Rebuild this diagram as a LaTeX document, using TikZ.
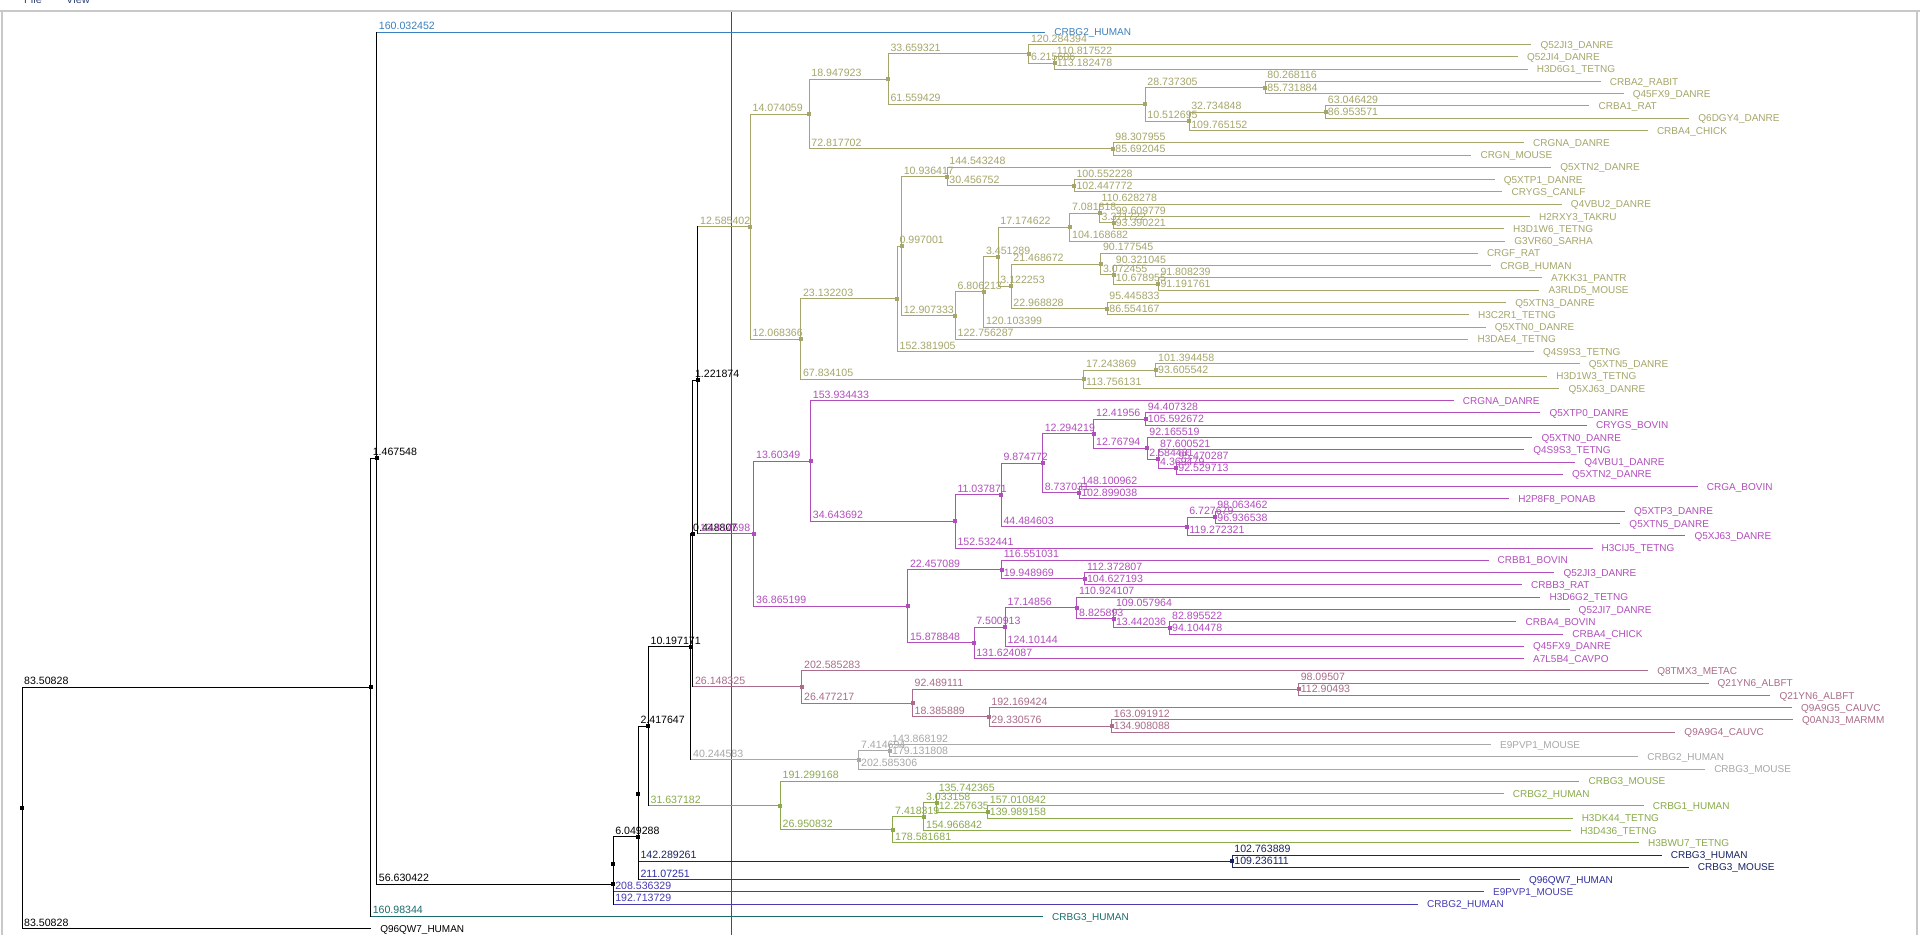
\documentclass[tikz,border=0pt]{standalone}
\usepackage{fontspec}
\setmainfont{Liberation Sans}
\usetikzlibrary{calc}
\definecolor{cOl}{RGB}{166,166,108}
\definecolor{cPur}{RGB}{178,78,188}
\definecolor{cMauve}{RGB}{170,108,138}
\definecolor{cGray}{RGB}{168,168,168}
\definecolor{cGreen}{RGB}{138,170,76}
\definecolor{cNavy}{RGB}{24,36,100}
\definecolor{cBv}{RGB}{70,60,180}
\definecolor{cBv2}{RGB}{45,45,160}
\definecolor{cBlue}{RGB}{58,128,190}
\definecolor{cTeal}{RGB}{28,108,108}
\definecolor{cBorder}{RGB}{200,200,200}
\definecolor{cMenu}{RGB}{50,70,120}
\def\sc{4.174}
\tikzset{
 br/.style={line width=1pt, line cap=rect},
 lbl/.style={inner sep=0pt, font=\fontsize{10.6}{12}\selectfont, anchor=base west},
 leaflbl/.style={inner sep=0pt, font=\fontsize{10}{12}\selectfont, anchor=base west},
 mk/.style={rectangle, inner sep=0pt, minimum size=4pt, draw=none},
}
% internal node: color, name, parent, length, y(px)
\newcommand\nd[5]{%
 \path let \p1=(#3) in ({\x1+#4*\sc pt},{-#5pt}) coordinate (#2);
 \draw[br,#1] (#3 |- #2) -- (#2);
 \node[lbl,text=#1,xshift=2pt,yshift=2.5pt] (#2b) at (#3 |- #2) {#4};}
% leaf: color, name, parent, length, index, text
\newcommand\lf[6]{%
 \path let \p1=(#3) in ({\x1+#4*\sc pt},{-(32.3+12.28*#5)*1pt}) coordinate (#2);
 \draw[br,#1] (#3 |- #2) -- (#2);
 \node[lbl,text=#1,xshift=2pt,yshift=2.5pt] (#2b) at (#3 |- #2) {#4};
 \node[leaflbl,text=#1,xshift=9.5pt,yshift=-3.6pt] (#2t) at (#2) {#6};}
% zero-length node: name, parent, y
\newcommand\zn[3]{\path let \p1=(#2) in (\x1,{-#3pt}) coordinate (#1);}
% vertical + marker: color, node, top child, bottom child
\newcommand\vl[4]{%
 \draw[br,#1] (#2 |- #3) -- (#2 |- #4);
 \node[mk,fill=#1] (#2m) at (#2) {};}
\begin{document}
\begin{tikzpicture}[x=1pt,y=1pt]
\useasboundingbox (0,0) rectangle (1920,-935);
\fill[white] (0,0) rectangle (1920,-935);
\begin{scope}
\clip (0,0) rectangle (1920,-935);
\node[leaflbl,text=cMenu,font=\fontsize{11}{12}\selectfont] (menuF) at (24,-3.5) {File};
\node[leaflbl,text=cMenu,font=\fontsize{11}{12}\selectfont] (menuV) at (66,-3.5) {View};
\end{scope}
\fill[cBorder] (0,-9.5) rectangle (1920,-12);
\fill[cBorder] (0.5,-12) rectangle (2.5,-935);
\fill[cBorder] (1915.5,-12) rectangle (1918,-935);
\draw[red,line width=1pt] (731,-12) -- (731,-935);
% ---------- backbone
\coordinate (R) at (22,-808.05);
\nd{black}{A}{R}{83.50828}{687.37}
\lf{black}{l73}{R}{83.50828}{73}{Q96QW7\_HUMAN}
\nd{black}{B}{A}{1.467548}{458.27}
\lf{cTeal}{l72}{A}{160.98344}{72}{CRBG3\_HUMAN}
\lf{cBlue}{l0}{B}{160.032452}{0}{CRBG2\_HUMAN}
\nd{black}{C}{B}{56.630422}{884.23}
\zn{Cp}{C}{864.27}
\lf{cBv}{l71}{C}{192.713729}{71}{CRBG2\_HUMAN}
\nd{black}{D}{Cp}{6.049288}{836.64}
\lf{cBv}{l70}{Cp}{208.536329}{70}{E9PVP1\_MOUSE}
\zn{Dp}{D}{793.67}
\lf{cBv2}{l69}{D}{211.07251}{69}{Q96QW7\_HUMAN}
\nd{black}{E}{Dp}{2.417647}{726.13}
\nd{cNavy}{N1}{Dp}{142.289261}{861.2}
\lf{cNavy}{l67}{N1}{102.763889}{67}{CRBG3\_HUMAN}
\lf{cNavy}{l68}{N1}{109.236111}{68}{CRBG3\_MOUSE}
\nd{black}{G}{E}{10.197171}{646.7}
\nd{cGreen}{H1}{E}{31.637182}{805.56}
\nd{black}{K}{G}{0.448807}{533.54}
\nd{cGray}{Gr1}{G}{40.244583}{759.89}
\nd{black}{L}{K}{1.221874}{380.09}
\nd{cMauve}{M1}{K}{26.148325}{686.98}
\nd{cOl}{O1}{L}{12.585402}{226.53}
\nd{cPur}{P1}{L}{13.414598}{533.64}
% ---------- olive clade
\nd{cOl}{O2}{O1}{14.074059}{114.04}
\nd{cOl}{O11}{O1}{12.068366}{339.03}
\nd{cOl}{O3}{O2}{18.947923}{79.12}
\nd{cOl}{O4}{O2}{72.817702}{148.96}
\nd{cOl}{O5}{O3}{33.659321}{53.79}
\nd{cOl}{O6}{O3}{61.559429}{104.445}
\lf{cOl}{l1}{O5}{120.284394}{1}{Q52JI3\_DANRE}
\nd{cOl}{O7}{O5}{6.215606}{63.0}
\lf{cOl}{l2}{O7}{110.817522}{2}{Q52JI4\_DANRE}
\lf{cOl}{l3}{O7}{113.182478}{3}{H3D6G1\_TETNG}
\nd{cOl}{O8}{O6}{28.737305}{87.56}
\nd{cOl}{O9}{O6}{10.512695}{121.33}
\lf{cOl}{l4}{O8}{80.268116}{4}{CRBA2\_RABIT}
\lf{cOl}{l5}{O8}{85.731884}{5}{Q45FX9\_DANRE}
\nd{cOl}{O10}{O9}{32.734848}{112.12}
\lf{cOl}{l8}{O9}{109.765152}{8}{CRBA4\_CHICK}
\lf{cOl}{l6}{O10}{63.046429}{6}{CRBA1\_RAT}
\lf{cOl}{l7}{O10}{86.953571}{7}{Q6DGY4\_DANRE}
\lf{cOl}{l9}{O4}{98.307955}{9}{CRGNA\_DANRE}
\lf{cOl}{l10}{O4}{85.692045}{10}{CRGN\_MOUSE}
\nd{cOl}{O12}{O11}{23.132203}{298.84}
\nd{cOl}{O13}{O11}{67.834105}{379.21}
\nd{cOl}{O15}{O12}{0.997001}{246.1}
\lf{cOl}{l26}{O12}{152.381905}{26}{Q4S9S3\_TETNG}
\nd{cOl}{O16}{O15}{10.936417}{176.59}
\nd{cOl}{O17}{O15}{12.907333}{315.6}
\lf{cOl}{l11}{O16}{144.543248}{11}{Q5XTN2\_DANRE}
\nd{cOl}{O18}{O16}{30.456752}{185.8}
\lf{cOl}{l12}{O18}{100.552228}{12}{Q5XTP1\_DANRE}
\lf{cOl}{l13}{O18}{102.447772}{13}{CRYGS\_CANLF}
\nd{cOl}{O19}{O17}{6.806213}{291.91}
\lf{cOl}{l25}{O17}{122.756287}{25}{H3DAE4\_TETNG}
\nd{cOl}{O20}{O19}{3.451289}{256.79}
\lf{cOl}{l24}{O19}{120.103399}{24}{Q5XTN0\_DANRE}
\nd{cOl}{O21}{O20}{17.174622}{227.245}
\nd{cOl}{O22}{O20}{3.122253}{286.34}
\nd{cOl}{O23}{O21}{7.081818}{213.43}
\lf{cOl}{l17}{O21}{104.168682}{17}{G3VR60\_SARHA}
\lf{cOl}{l14}{O23}{110.628278}{14}{Q4VBU2\_DANRE}
\nd{cOl}{O24}{O23}{3.371722}{222.64}
\lf{cOl}{l15}{O24}{99.609779}{15}{H2RXY3\_TAKRU}
\lf{cOl}{l16}{O24}{93.390221}{16}{H3D1W6\_TETNG}
\nd{cOl}{O25}{O22}{21.468672}{264.085}
\nd{cOl}{O26}{O22}{22.968828}{308.6}
\lf{cOl}{l18}{O25}{90.177545}{18}{CRGF\_RAT}
\nd{cOl}{O27}{O25}{3.072455}{274.83}
\lf{cOl}{l19}{O27}{90.321045}{19}{CRGB\_HUMAN}
\nd{cOl}{O28}{O27}{10.678955}{284.04}
\lf{cOl}{l20}{O28}{91.808239}{20}{A7KK31\_PANTR}
\lf{cOl}{l21}{O28}{91.191761}{21}{A3RLD5\_MOUSE}
\lf{cOl}{l22}{O26}{95.445833}{22}{Q5XTN3\_DANRE}
\lf{cOl}{l23}{O26}{86.554167}{23}{H3C2R1\_TETNG}
\nd{cOl}{O14}{O13}{17.243869}{370.0}
\lf{cOl}{l29}{O13}{113.756131}{29}{Q5XJ63\_DANRE}
\lf{cOl}{l27}{O14}{101.394458}{27}{Q5XTN5\_DANRE}
\lf{cOl}{l28}{O14}{93.605542}{28}{H3D1W3\_TETNG}
% ---------- purple clade
\nd{cPur}{P2}{P1}{13.60349}{461.09}
\nd{cPur}{P3}{P1}{36.865199}{606.2}
\lf{cPur}{l30}{P2}{153.934433}{30}{CRGNA\_DANRE}
\nd{cPur}{P4}{P2}{34.643692}{521.49}
\nd{cPur}{P5}{P4}{11.037871}{494.91}
\lf{cPur}{l42}{P4}{152.532441}{42}{H3CIJ5\_TETNG}
\nd{cPur}{P6}{P5}{9.874772}{463.25}
\nd{cPur}{P7}{P5}{44.484603}{526.57}
\nd{cPur}{P8}{P6}{12.294219}{433.70}
\nd{cPur}{P9}{P6}{8.737031}{492.8}
\nd{cPur}{P10}{P8}{12.41956}{419.12}
\nd{cPur}{P11}{P8}{12.76794}{448.285}
\lf{cPur}{l31}{P10}{94.407328}{31}{Q5XTP0\_DANRE}
\lf{cPur}{l32}{P10}{105.592672}{32}{CRYGS\_BOVIN}
\lf{cPur}{l33}{P11}{92.165519}{33}{Q5XTN0\_DANRE}
\nd{cPur}{P12}{P11}{2.584481}{459.03}
\lf{cPur}{l34}{P12}{87.600521}{34}{Q4S9S3\_TETNG}
\nd{cPur}{P13}{P12}{4.369479}{468.24}
\lf{cPur}{l35}{P13}{95.470287}{35}{Q4VBU1\_DANRE}
\lf{cPur}{l36}{P13}{92.529713}{36}{Q5XTN2\_DANRE}
\lf{cPur}{l37}{P9}{148.100962}{37}{CRGA\_BOVIN}
\lf{cPur}{l38}{P9}{102.899038}{38}{H2P8F8\_PONAB}
\nd{cPur}{P14}{P7}{6.727679}{517.36}
\lf{cPur}{l41}{P7}{119.272321}{41}{Q5XJ63\_DANRE}
\lf{cPur}{l39}{P14}{98.063462}{39}{Q5XTP3\_DANRE}
\lf{cPur}{l40}{P14}{96.936538}{40}{Q5XTN5\_DANRE}
\nd{cPur}{P15}{P3}{22.457089}{569.55}
\nd{cPur}{P16}{P3}{15.878848}{642.85}
\lf{cPur}{l43}{P15}{116.551031}{43}{CRBB1\_BOVIN}
\nd{cPur}{P17}{P15}{19.948969}{578.76}
\lf{cPur}{l44}{P17}{112.372807}{44}{Q52JI3\_DANRE}
\lf{cPur}{l45}{P17}{104.627193}{45}{CRBB3\_RAT}
\nd{cPur}{P18}{P16}{7.500913}{627.11}
\lf{cPur}{l51}{P16}{131.624087}{51}{A7L5B4\_CAVPO}
\nd{cPur}{P19}{P18}{17.14856}{607.93}
\lf{cPur}{l50}{P18}{124.10144}{50}{Q45FX9\_DANRE}
\lf{cPur}{l46}{P19}{110.924107}{46}{H3D6G2\_TETNG}
\nd{cPur}{P20}{P19}{8.825893}{618.67}
\lf{cPur}{l47}{P20}{109.057964}{47}{Q52JI7\_DANRE}
\nd{cPur}{P21}{P20}{13.442036}{627.88}
\lf{cPur}{l48}{P21}{82.895522}{48}{CRBA4\_BOVIN}
\lf{cPur}{l49}{P21}{94.104478}{49}{CRBA4\_CHICK}
% ---------- mauve clade
\lf{cMauve}{l52}{M1}{202.585283}{52}{Q8TMX3\_METAC}
\nd{cMauve}{M2}{M1}{26.477217}{703.1}
\nd{cMauve}{M4}{M2}{92.489111}{689.28}
\nd{cMauve}{M3}{M2}{18.385889}{716.91}
\lf{cMauve}{l53}{M4}{98.09507}{53}{Q21YN6\_ALBFT}
\lf{cMauve}{l54}{M4}{112.90493}{54}{Q21YN6\_ALBFT}
\lf{cMauve}{l55}{M3}{192.169424}{55}{Q9A9G5\_CAUVC}
\nd{cMauve}{M5}{M3}{29.330576}{726.12}
\lf{cMauve}{l56}{M5}{163.091912}{56}{Q0ANJ3\_MARMM}
\lf{cMauve}{l57}{M5}{134.908088}{57}{Q9A9G4\_CAUVC}
% ---------- gray clade
\nd{cGray}{Gr2}{Gr1}{7.414694}{750.68}
\lf{cGray}{l60}{Gr1}{202.585306}{60}{CRBG3\_MOUSE}
\lf{cGray}{l58}{Gr2}{143.868192}{58}{E9PVP1\_MOUSE}
\lf{cGray}{l59}{Gr2}{179.131808}{59}{CRBG2\_HUMAN}
% ---------- green clade
\lf{cGreen}{l61}{H1}{191.299168}{61}{CRBG3\_MOUSE}
\nd{cGreen}{H2}{H1}{26.950832}{829.73}
\nd{cGreen}{H3}{H2}{7.418319}{816.69}
\lf{cGreen}{l66}{H2}{178.581681}{66}{H3BWU7\_TETNG}
\nd{cGreen}{H4}{H3}{3.033158}{802.87}
\lf{cGreen}{l65}{H3}{154.966842}{65}{H3D436\_TETNG}
\lf{cGreen}{l62}{H4}{135.742365}{62}{CRBG2\_HUMAN}
\nd{cGreen}{H5}{H4}{12.257635}{812.08}
\lf{cGreen}{l63}{H5}{157.010842}{63}{CRBG1\_HUMAN}
\lf{cGreen}{l64}{H5}{139.989158}{64}{H3DK44\_TETNG}
% ---------- verticals and node markers
\vl{black}{R}{A}{l73}
\vl{black}{A}{B}{l72}
\vl{black}{B}{l0}{C}
\vl{black}{C}{Cp}{l71}
\vl{black}{Cp}{D}{l70}
\vl{black}{D}{Dp}{l69}
\vl{black}{Dp}{E}{N1}
\vl{black}{E}{G}{H1}
\vl{black}{G}{K}{Gr1}
\vl{black}{K}{L}{M1}
\vl{black}{L}{O1}{P1}
\vl{cNavy}{N1}{l67}{l68}
\vl{cOl}{O1}{O2}{O11}
\vl{cOl}{O2}{O3}{O4}
\vl{cOl}{O3}{O5}{O6}
\vl{cOl}{O5}{l1}{O7}
\vl{cOl}{O7}{l2}{l3}
\vl{cOl}{O6}{O8}{O9}
\vl{cOl}{O8}{l4}{l5}
\vl{cOl}{O9}{O10}{l8}
\vl{cOl}{O10}{l6}{l7}
\vl{cOl}{O4}{l9}{l10}
\vl{cOl}{O11}{O12}{O13}
\vl{cOl}{O12}{O15}{l26}
\vl{cOl}{O15}{O16}{O17}
\vl{cOl}{O16}{l11}{O18}
\vl{cOl}{O18}{l12}{l13}
\vl{cOl}{O17}{O19}{l25}
\vl{cOl}{O19}{O20}{l24}
\vl{cOl}{O20}{O21}{O22}
\vl{cOl}{O21}{O23}{l17}
\vl{cOl}{O23}{l14}{O24}
\vl{cOl}{O24}{l15}{l16}
\vl{cOl}{O22}{O25}{O26}
\vl{cOl}{O25}{l18}{O27}
\vl{cOl}{O27}{l19}{O28}
\vl{cOl}{O28}{l20}{l21}
\vl{cOl}{O26}{l22}{l23}
\vl{cOl}{O13}{O14}{l29}
\vl{cOl}{O14}{l27}{l28}
\vl{cPur}{P1}{P2}{P3}
\vl{cPur}{P2}{l30}{P4}
\vl{cPur}{P4}{P5}{l42}
\vl{cPur}{P5}{P6}{P7}
\vl{cPur}{P6}{P8}{P9}
\vl{cPur}{P8}{P10}{P11}
\vl{cPur}{P10}{l31}{l32}
\vl{cPur}{P11}{l33}{P12}
\vl{cPur}{P12}{l34}{P13}
\vl{cPur}{P13}{l35}{l36}
\vl{cPur}{P9}{l37}{l38}
\vl{cPur}{P7}{P14}{l41}
\vl{cPur}{P14}{l39}{l40}
\vl{cPur}{P3}{P15}{P16}
\vl{cPur}{P15}{l43}{P17}
\vl{cPur}{P17}{l44}{l45}
\vl{cPur}{P16}{P18}{l51}
\vl{cPur}{P18}{P19}{l50}
\vl{cPur}{P19}{l46}{P20}
\vl{cPur}{P20}{l47}{P21}
\vl{cPur}{P21}{l48}{l49}
\vl{cMauve}{M1}{l52}{M2}
\vl{cMauve}{M2}{M4}{M3}
\vl{cMauve}{M4}{l53}{l54}
\vl{cMauve}{M3}{l55}{M5}
\vl{cMauve}{M5}{l56}{l57}
\vl{cGray}{Gr1}{Gr2}{l60}
\vl{cGray}{Gr2}{l58}{l59}
\vl{cGreen}{H1}{l61}{H2}
\vl{cGreen}{H2}{H3}{l66}
\vl{cGreen}{H3}{H4}{l65}
\vl{cGreen}{H4}{l62}{H5}
\vl{cGreen}{H5}{l63}{l64}
\end{tikzpicture}
\end{document}
